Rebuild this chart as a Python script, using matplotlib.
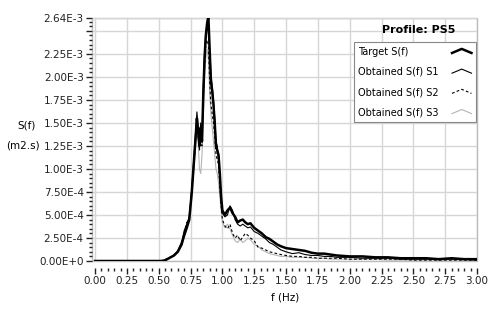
import matplotlib
matplotlib.use('Agg')
import matplotlib.pyplot as plt
from matplotlib.legend_handler import HandlerLine2D
from matplotlib.lines import Line2D
from matplotlib.patches import Rectangle
from matplotlib.ticker import FixedLocator, MultipleLocator, FuncFormatter

# frequency (Hz)
freq = [0.00, 0.10, 0.20, 0.30, 0.40, 0.50, 0.54, 0.58, 0.62, 0.65,
        0.68, 0.70, 0.72, 0.74, 0.76, 0.78, 0.79, 0.80, 0.81, 0.82,
        0.83, 0.84, 0.85, 0.86, 0.87, 0.88, 0.89, 0.90, 0.91, 0.92,
        0.93, 0.94, 0.95, 0.96, 0.97, 0.98, 0.99, 1.00, 1.02, 1.04,
        1.06, 1.08, 1.10, 1.12, 1.14, 1.16, 1.18, 1.20, 1.22, 1.25,
        1.28, 1.31, 1.34, 1.37, 1.40, 1.43, 1.46, 1.50, 1.55, 1.60,
        1.65, 1.70, 1.75, 1.80, 1.85, 1.90, 2.00, 2.10, 2.20, 2.30,
        2.40, 2.50, 2.60, 2.70, 2.80, 2.90, 3.00]

# spectra, in units of 1e-3 m2.s
target = [0.00, 0.00, 0.00, 0.00, 0.00, 0.00, 0.00, 0.03, 0.06, 0.10,
          0.18, 0.28, 0.36, 0.45, 0.75, 1.15, 1.35, 1.55, 1.40, 1.25,
          1.45, 1.30, 1.80, 2.20, 2.45, 2.58, 2.66, 2.30, 1.95, 1.85,
          1.70, 1.50, 1.25, 1.20, 1.15, 0.95, 0.70, 0.55, 0.50, 0.55,
          0.58, 0.52, 0.48, 0.42, 0.44, 0.45, 0.42, 0.40, 0.41, 0.36,
          0.33, 0.30, 0.26, 0.24, 0.21, 0.18, 0.16, 0.14, 0.13, 0.12,
          0.11, 0.09, 0.08, 0.08, 0.07, 0.06, 0.05, 0.05, 0.04, 0.04,
          0.03, 0.03, 0.03, 0.02, 0.03, 0.02, 0.02]
s1 = [0.00, 0.00, 0.00, 0.00, 0.00, 0.00, 0.01, 0.03, 0.06, 0.11,
      0.20, 0.33, 0.40, 0.48, 0.80, 1.20, 1.40, 1.62, 1.45, 1.30,
      1.50, 1.35, 1.90, 2.25, 2.50, 2.55, 2.60, 2.30, 2.05, 1.90,
      1.75, 1.55, 1.30, 1.25, 1.10, 0.90, 0.65, 0.52, 0.48, 0.50,
      0.60, 0.55, 0.45, 0.40, 0.38, 0.40, 0.38, 0.36, 0.37, 0.32,
      0.30, 0.27, 0.24, 0.20, 0.18, 0.15, 0.12, 0.10, 0.08, 0.09,
      0.07, 0.06, 0.06, 0.05, 0.05, 0.04, 0.04, 0.03, 0.03, 0.03,
      0.02, 0.02, 0.02, 0.02, 0.02, 0.02, 0.01]
s2 = [0.00, 0.00, 0.00, 0.00, 0.00, 0.00, 0.01, 0.03, 0.07, 0.10,
      0.19, 0.30, 0.42, 0.44, 0.78, 1.10, 1.30, 1.50, 1.35, 1.20,
      1.40, 1.25, 1.75, 2.10, 2.35, 2.40, 2.35, 1.95, 1.70, 1.60,
      1.50, 1.35, 1.15, 1.10, 1.05, 0.80, 0.60, 0.45, 0.38, 0.35,
      0.40, 0.30, 0.25, 0.28, 0.22, 0.26, 0.30, 0.28, 0.25, 0.22,
      0.15, 0.14, 0.12, 0.10, 0.09, 0.08, 0.07, 0.06, 0.05, 0.05,
      0.04, 0.04, 0.03, 0.03, 0.03, 0.03, 0.02, 0.02, 0.02, 0.02,
      0.02, 0.01, 0.01, 0.01, 0.01, 0.01, 0.01]
s3 = [0.00, 0.00, 0.00, 0.00, 0.00, 0.00, 0.01, 0.03, 0.06, 0.12,
      0.22, 0.25, 0.34, 0.50, 0.70, 1.05, 1.25, 1.40, 1.30, 1.00,
      0.95, 1.15, 1.60, 2.00, 2.20, 2.30, 2.20, 1.85, 1.60, 1.45,
      1.30, 1.15, 1.00, 0.95, 0.85, 0.70, 0.55, 0.42, 0.36, 0.40,
      0.35, 0.28, 0.22, 0.20, 0.24, 0.20, 0.22, 0.25, 0.23, 0.18,
      0.16, 0.12, 0.10, 0.08, 0.07, 0.06, 0.05, 0.05, 0.04, 0.04,
      0.04, 0.03, 0.03, 0.03, 0.02, 0.02, 0.02, 0.02, 0.02, 0.01,
      0.01, 0.01, 0.01, 0.01, 0.01, 0.01, 0.01]

series_names = ['Target S(f)', 'Obtained S(f) S1', 'Obtained S(f) S2', 'Obtained S(f) S3']
y_major = [0.0, 0.25, 0.5, 0.75, 1.0, 1.25, 1.5, 1.75, 2.0, 2.25, 2.5, 2.64]
x_major = [0.0, 0.25, 0.5, 0.75, 1.0, 1.25, 1.5, 1.75, 2.0, 2.25, 2.5, 2.75, 3.0]

for s in (target, s1, s2, s3):
    assert len(s) == len(freq)


def sci_label(v, pos):
    v = v * 1e-3
    if abs(v - 2.5e-3) < 1e-9:
        return ''
    if v == 0:
        return '0.00E+0'
    exp = 0
    m = v
    while abs(m) < 1:
        m *= 10
        exp -= 1
    return '%.2fE%d' % (m, exp)


class ChevronHandler(HandlerLine2D):
    def create_artists(self, legend, orig_handle, xdescent, ydescent,
                       width, height, fontsize, trans):
        line = Line2D([-xdescent, -xdescent + width / 2, -xdescent + width],
                      [-ydescent + height * 0.25, -ydescent + height * 0.85,
                       -ydescent + height * 0.25])
        self.update_prop(line, orig_handle, legend)
        line.set_transform(trans)
        return [line]


plt.rcParams['font.family'] = 'DejaVu Sans'
fig = plt.figure(figsize=(4.94, 3.13), dpi=100)
ax = fig.add_axes([92 / 494, 1 - 261 / 313, (477 - 92) / 494, 243 / 313])

grid_col = '#d6d6d6'
ax.plot(freq, s3, color='#b4b4b4', lw=0.8, label=series_names[3])
ax.plot(freq, s2, color='black', lw=0.8, ls=(0, (2.5, 2)), label=series_names[2])
ax.plot(freq, s1, color='black', lw=0.8, label=series_names[1])
ax.plot(freq, target, color='black', lw=1.8, label=series_names[0])

ax.set_xlim(-0.024, 3.0)
ax.set_ylim(0, 2.64)

ax.xaxis.set_major_locator(FixedLocator(x_major))
ax.xaxis.set_minor_locator(MultipleLocator(0.05))
ax.xaxis.set_major_formatter(FuncFormatter(lambda v, p: '%.2f' % v))
ax.yaxis.set_major_locator(FixedLocator(y_major))
ax.yaxis.set_minor_locator(MultipleLocator(0.05))
ax.yaxis.set_major_formatter(FuncFormatter(sci_label))

ax.grid(True, which='major', color=grid_col, lw=1)
ax.set_axisbelow(True)
for side in ('top', 'right', 'left', 'bottom'):
    ax.spines[side].set_visible(False)
ax.spines['bottom'].set_position(('outward', 5))
ax.add_patch(Rectangle((0, 0), 1, 1, transform=ax.transAxes, fill=False,
                       edgecolor='#bcbcbc', lw=1, clip_on=False, zorder=0))

ax.tick_params(axis='both', which='major', labelsize=7.5, colors='#222222',
               length=4, width=1, direction='out', pad=2)
ax.tick_params(axis='both', which='minor', length=2, width=1,
               colors='#222222', direction='out')

handles, labels = ax.get_legend_handles_labels()
handles = handles[::-1]
labels = labels[::-1]
leg = ax.legend(handles, labels, loc='upper right', bbox_to_anchor=(0.997, 0.9),
                fontsize=7, markerfirst=False, handlelength=2.0,
                handler_map={Line2D: ChevronHandler()}, fancybox=False,
                framealpha=1, edgecolor='#888888', borderpad=0.45,
                labelspacing=1.05, handletextpad=1.6, borderaxespad=0)
leg.get_frame().set_linewidth(0.8)
# left-align the labels, keep the line samples in a column on the right
for col in leg._legend_handle_box.get_children():
    col.align = 'left'
    for row in col.get_children():
        row.mode = 'expand'
        row.width = 113

ax.text(0.945, 0.952, 'Profile: PS5', transform=ax.transAxes, ha='right',
        va='center', fontsize=8, fontweight='bold', color='black')

fig.text(27 / 494, 1 - 125 / 313, 'S(f)', ha='center', va='center', fontsize=7.5)
fig.text(23 / 494, 1 - 145 / 313, '(m2.s)', ha='center', va='center', fontsize=7.5)
fig.text(285 / 494, 1 - 297 / 313, 'f (Hz)', ha='center', va='center', fontsize=7.5)

fig.savefig('out.png', dpi=100)
